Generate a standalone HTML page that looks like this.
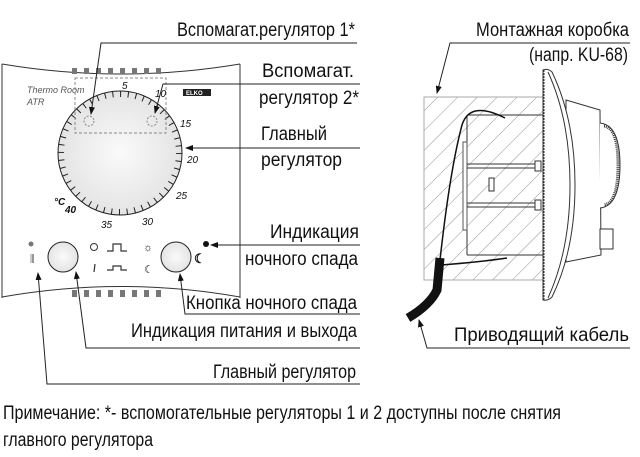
<!DOCTYPE html>
<html><head><meta charset="utf-8"><style>
html,body{margin:0;padding:0;background:#fff;}
svg{display:block;}
text{font-family:"Liberation Sans Narrow","Liberation Sans",sans-serif;fill:#111;}
</style></head><body>
<svg width="640" height="457" viewBox="0 0 640 457" xmlns="http://www.w3.org/2000/svg">
<defs>
<marker id="ar" markerWidth="8" markerHeight="6" refX="7" refY="3" orient="auto" markerUnits="userSpaceOnUse"><path d="M0,0 L8,3 L0,6z" fill="#111"/></marker>
<pattern id="hatch" width="14" height="14" patternUnits="userSpaceOnUse" patternTransform="rotate(45)"><line x1="0" y1="0" x2="0" y2="14" stroke="#777" stroke-width="0.8"/></pattern>
<radialGradient id="dg" cx="50%" cy="50%" r="50%"><stop offset="0" stop-color="#fafafa"/><stop offset="1" stop-color="#e4e4e4"/></radialGradient>
</defs>

<!-- Left device -->
<path d="M2,64 L2,298 M240,64 L240,298" stroke="#333" fill="none" stroke-width="1"/>
<path d="M2,64 Q121,84 240,64" stroke="#333" fill="none"/>
<path d="M2,297 Q121,276 240,297" stroke="#333" fill="none"/>
<g fill="#777">
<rect x="72" y="68" width="5" height="6"/><rect x="84" y="68" width="5" height="6"/><rect x="96" y="68" width="5" height="6"/><rect x="108" y="68" width="5" height="6"/><rect x="120" y="68" width="5" height="6"/><rect x="132" y="68" width="5" height="6"/><rect x="144" y="68" width="5" height="6"/><rect x="156" y="68" width="5" height="6"/>
<rect x="72" y="290" width="5" height="7"/><rect x="84" y="290" width="5" height="7"/><rect x="96" y="290" width="5" height="7"/><rect x="108" y="290" width="5" height="7"/><rect x="120" y="290" width="5" height="7"/><rect x="132" y="290" width="5" height="7"/><rect x="144" y="290" width="5" height="7"/><rect x="156" y="290" width="5" height="7"/>
</g>
<text x="27" y="93" font-size="9" font-style="italic" style="fill:#555">Thermo Room</text>
<text x="27" y="105" font-size="9" font-style="italic" style="fill:#555">ATR</text>
<rect x="183" y="89" width="28" height="7" fill="#222"/>
<text x="186" y="95" font-size="6" style="fill:#fff" font-weight="bold">ELKO</text>
<circle cx="120" cy="153" r="62" fill="url(#dg)" stroke="#222" stroke-width="1"/>
<circle cx="120" cy="153" r="59" fill="none" stroke="#222" stroke-width="6" stroke-dasharray="1 6.723"/>
<rect x="75" y="78" width="91" height="55" fill="none" stroke="#888" stroke-dasharray="3,2"/>
<circle cx="89" cy="121" r="5" fill="none" stroke="#888" stroke-dasharray="2,1.5"/>
<circle cx="152" cy="121" r="5" fill="none" stroke="#888" stroke-dasharray="2,1.5"/>
<g font-size="10" font-style="italic">
<text x="122" y="89">5</text><text x="155" y="97">10</text><text x="180" y="127">15</text><text x="187" y="163">20</text><text x="176" y="199">25</text><text x="142" y="225">30</text><text x="101" y="228">35</text><text x="65" y="213" font-weight="bold">40</text><text x="54" y="205" font-weight="bold">°C</text>
</g>
<circle cx="31" cy="244" r="2.5" fill="#777"/>
<text x="30" y="262" font-size="10" style="fill:#555">⫼</text>
<circle cx="63" cy="257" r="15" fill="url(#dg)" stroke="#222"/>
<circle cx="94" cy="247" r="3.5" fill="none" stroke="#333"/>
<line x1="95" y1="264" x2="94" y2="272" stroke="#333" stroke-width="1.2"/>
<path d="M107,251 h6 v-7 h8 v7 h6" fill="none" stroke="#333" stroke-width="1.2"/>
<path d="M107,270 h6 v-4 h8 v4 h6" fill="none" stroke="#333" stroke-width="1.2"/>
<text x="143" y="251" font-size="11">☼</text>
<text x="144" y="273" font-size="11">☾</text>
<circle cx="176" cy="257" r="15" fill="url(#dg)" stroke="#222"/>
<text x="194" y="263" font-size="13" font-weight="bold">☾</text>
<circle cx="206" cy="244" r="3" fill="#111"/>

<!-- Left labels -->
<g font-size="19">
<text x="177" y="36" textLength="178" lengthAdjust="spacingAndGlyphs">Вспомагат.регулятор 1*</text>
<text x="262" y="77" textLength="92" lengthAdjust="spacingAndGlyphs">Вспомагат.</text>
<text x="259" y="104" textLength="100" lengthAdjust="spacingAndGlyphs">регулятор 2*</text>
<text x="261" y="140" textLength="66" lengthAdjust="spacingAndGlyphs">Главный</text>
<text x="261" y="166" textLength="81" lengthAdjust="spacingAndGlyphs">регулятор</text>
<text x="270" y="238" textLength="89" lengthAdjust="spacingAndGlyphs">Индикация</text>
<text x="245" y="265" textLength="113" lengthAdjust="spacingAndGlyphs">ночного спада</text>
<text x="186" y="309" textLength="171" lengthAdjust="spacingAndGlyphs">Кнопка ночного спада</text>
<text x="131" y="337" textLength="226" lengthAdjust="spacingAndGlyphs">Индикация питания и выхода</text>
<text x="213" y="378" textLength="143" lengthAdjust="spacingAndGlyphs">Главный регулятор</text>
<text x="3" y="419" textLength="558" lengthAdjust="spacingAndGlyphs">Примечание: *- вспомогательные регуляторы 1 и 2 доступны после снятия</text>
<text x="3" y="446" textLength="150" lengthAdjust="spacingAndGlyphs">главного регулятора</text>
</g>
<g stroke="#222" fill="none" stroke-width="1">
<path d="M357,43 H101 L91,114" marker-end="url(#ar)"/>
<path d="M360,84 H163 L155,113" marker-end="url(#ar)"/>
<path d="M360,148 H186" marker-end="url(#ar)"/>
<path d="M360,245 H211" marker-end="url(#ar)"/>
<path d="M360,314 H185 L180,274" marker-end="url(#ar)"/>
<path d="M360,348 H86 L76,272" marker-end="url(#ar)"/>
<path d="M360,384 H47 L38,273" marker-end="url(#ar)"/>
</g>

<!-- Right device -->
<rect x="424" y="97" width="119" height="183" fill="url(#hatch)" stroke="#aaa"/>
<path d="M467,115 H543 M467,255 H543 M467,115 V255" stroke="#333" fill="none"/>
<rect x="463" y="142" width="4" height="88" fill="#fff" stroke="#555"/>
<path d="M467,164 H537 M467,168 H537 M467,203 H537 M467,207 H537" stroke="#333"/>
<rect x="535" y="161" width="6" height="10" fill="#fff" stroke="#333"/>
<rect x="535" y="200" width="6" height="10" fill="#fff" stroke="#333"/>
<rect x="489" y="178" width="5" height="13" fill="#fff" stroke="#333"/>
<path d="M566,100 L600,110 L601,255 L566,262 Z" fill="#fff" stroke="#333"/>
<path d="M600,123 Q620,125 620,165 Q620,206 600,208" fill="#fff" stroke="#333"/>
<path d="M604,126 Q618,128 618,165 Q618,203 604,205" fill="none" stroke="#333" stroke-width="3" stroke-dasharray="1,1"/>
<rect x="600" y="229" width="13" height="20" fill="#fff" stroke="#333"/>
<path d="M543,70 Q548,68 552,72 Q575,120 575,185 Q575,250 552,297 Q548,301 543,300 Z" fill="#fff" stroke="#333"/>
<path d="M548,72 Q570,120 570,185 Q570,250 548,298" fill="none" stroke="#333"/>
<path d="M544,70 V300" stroke="#333" stroke-dasharray="2,1"/>
<path d="M505,118 Q470,100 462,125 Q450,170 440,260" fill="none" stroke="#111" stroke-width="1.5"/>
<path d="M440,258 L437,290 Q430,305 408,318" fill="none" stroke="#111" stroke-width="9"/>
<path d="M441,265 Q480,262 507,258" fill="none" stroke="#111" stroke-width="1.5"/>
<g font-size="19">
<text x="476" y="36" textLength="153" lengthAdjust="spacingAndGlyphs">Монтажная коробка</text>
<text x="529" y="61" textLength="99" lengthAdjust="spacingAndGlyphs">(напр. KU-68)</text>
<text x="454" y="341" textLength="175" lengthAdjust="spacingAndGlyphs">Приводящий кабель</text>
</g>
<g stroke="#222" fill="none">
<path d="M630,43 H450 L437,93" marker-end="url(#ar)"/>
<path d="M630,348 H427 L419,320" marker-end="url(#ar)"/>
</g>
</svg>
</body></html>
